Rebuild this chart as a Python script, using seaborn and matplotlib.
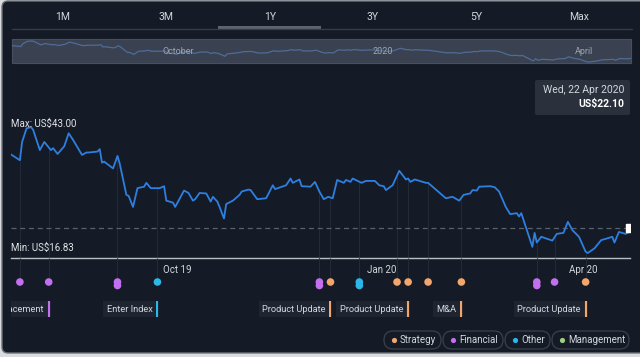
import numpy as np
import pandas as pd
import seaborn as sns
import matplotlib.pyplot as plt
import matplotlib.dates as mdates
from matplotlib.patches import FancyBboxPatch, Rectangle
from matplotlib.transforms import offset_copy, blended_transform_factory

# DATA

price_dates = ['2019-07-18', '2019-07-22', '2019-07-23', '2019-07-25', '2019-07-27', '2019-07-28',
               '2019-07-31', '2019-08-02', '2019-08-05', '2019-08-06', '2019-08-08', '2019-08-11',
               '2019-08-13', '2019-08-15', '2019-08-19', '2019-08-21', '2019-08-22', '2019-08-26',
               '2019-08-27', '2019-08-28', '2019-08-29', '2019-09-02', '2019-09-04', '2019-09-05',
               '2019-09-08', '2019-09-09', '2019-09-11', '2019-09-13', '2019-09-16', '2019-09-17',
               '2019-09-19', '2019-09-23', '2019-09-25', '2019-09-26', '2019-09-29', '2019-09-30',
               '2019-10-04', '2019-10-06', '2019-10-08', '2019-10-09', '2019-10-11', '2019-10-14',
               '2019-10-16', '2019-10-17', '2019-10-19', '2019-10-20', '2019-10-22', '2019-10-23',
               '2019-10-26', '2019-10-29', '2019-10-30', '2019-11-02', '2019-11-03', '2019-11-06',
               '2019-11-10', '2019-11-13', '2019-11-14', '2019-11-19', '2019-11-21', '2019-11-22',
               '2019-11-25', '2019-11-26', '2019-11-30', '2019-12-02', '2019-12-04', '2019-12-06',
               '2019-12-08', '2019-12-10', '2019-12-12', '2019-12-15', '2019-12-16', '2019-12-18',
               '2019-12-19', '2019-12-23', '2019-12-25', '2019-12-29', '2019-12-31', '2020-01-02',
               '2020-01-03', '2020-01-06', '2020-01-09', '2020-01-12', '2020-01-13', '2020-01-14',
               '2020-01-16', '2020-01-21', '2020-01-22', '2020-01-24', '2020-01-30', '2020-02-02',
               '2020-02-05', '2020-02-07', '2020-02-10', '2020-02-11', '2020-02-13', '2020-02-14',
               '2020-02-19', '2020-02-21', '2020-02-23', '2020-02-26', '2020-02-28', '2020-03-02',
               '2020-03-03', '2020-03-04', '2020-03-09', '2020-03-10', '2020-03-11', '2020-03-13',
               '2020-03-18', '2020-03-20', '2020-03-23', '2020-03-25', '2020-03-27', '2020-03-30',
               '2020-04-02', '2020-04-03', '2020-04-06', '2020-04-09', '2020-04-12', '2020-04-14',
               '2020-04-15', '2020-04-17', '2020-04-20', '2020-04-21', '2020-04-22']
prices = [37.3, 36.1, 39.9, 42.7, 43.0, 42.4,
          38.2, 39.9, 38.2, 38.6, 37.4, 39.0,
          41.7, 40.3, 37.2, 37.7, 37.7, 37.9,
          38.4, 35.6, 35.8, 34.4, 37.0, 35.4,
          28.9, 28.7, 26.4, 30.3, 30.6, 31.4,
          30.3, 30.3, 30.7, 27.7, 27.3, 26.4,
          29.8, 29.3, 27.7, 28.0, 29.3, 29.2,
          27.5, 28.5, 27.5, 26.4, 24.0, 27.0,
          27.7, 28.9, 29.6, 30.0, 29.9, 28.0,
          28.2, 30.9, 30.1, 30.9, 32.3, 31.4,
          32.1, 30.7, 30.6, 31.6, 29.6, 28.0,
          28.5, 28.2, 32.0, 31.4, 32.0, 31.6,
          32.3, 31.4, 31.8, 31.8, 30.9, 30.7,
          29.9, 30.9, 33.9, 32.1, 32.3, 31.6,
          32.1, 31.4, 31.4, 30.6, 28.2, 28.5,
          27.7, 28.9, 29.2, 29.9, 29.8, 30.6,
          30.7, 30.5, 29.6, 26.4, 24.9, 25.1,
          24.4, 25.1, 18.1, 21.0, 19.0, 20.2,
          19.4, 20.8, 21.0, 23.3, 21.6, 20.2,
          17.1, 16.83, 17.8, 19.5, 19.9, 20.2,
          19.0, 21.2, 20.8, 21.0, 21.4]

max_price = 43.00
min_price = 16.83
last_price = 22.10

event_dates = ['2019-07-22', '2019-08-04', '2019-09-04', '2019-09-04', '2019-09-22',
               '2019-12-04', '2019-12-04', '2019-12-09', '2019-12-22', '2019-12-22',
               '2020-01-08', '2020-01-13', '2020-01-22', '2020-02-06', '2020-03-11',
               '2020-03-11', '2020-03-19', '2020-04-02']
event_types = ['Financial', 'Financial', 'Financial', 'Financial', 'Other',
               'Financial', 'Financial', 'Strategy', 'Other', 'Other',
               'Strategy', 'Strategy', 'Strategy', 'Strategy', 'Financial',
               'Financial', 'Financial', 'Strategy']

label_dates = ['2019-08-04', '2019-09-22', '2019-12-09', '2020-01-13', '2020-02-06', '2020-04-02']
label_texts = ['Private Placement', 'Enter Index', 'Product Update', 'Product Update', 'M&A', 'Product Update']
label_types = ['Financial', 'Other', 'Strategy', 'Strategy', 'Strategy', 'Strategy']

tick_dates = ['2019-10-01', '2020-01-01', '2020-04-01']
tab_labels = ['1M', '3M', '1Y', '3Y', '5Y', 'Max']
legend_labels = ['Strategy', 'Financial', 'Other', 'Management']
mini_labels = ['October', '2020', 'April']

palette = {'Strategy': '#f3a66c', 'Financial': '#c26ff0', 'Other': '#2bb7e8', 'Management': '#9fcf7e'}

df = pd.DataFrame({'date': pd.to_datetime(price_dates), 'price': prices})
ev = pd.DataFrame({'date': pd.to_datetime(event_dates), 'type': event_types})
ev['row'] = 24 + 3.5 * ev.groupby('date').cumcount()
ev['price'] = np.interp(mdates.date2num(ev['date']), mdates.date2num(df['date']), df['price'])

# STYLE

sns.set_style('dark')
plt.rcParams['font.family'] = ['Roboto', 'DejaVu Sans']

W, H = 640, 357
BG = '#151b26'
TXT = '#d3d7dd'
FAINT = '#232a35'

fig = plt.figure(figsize=(6.4, 3.57), dpi=100, facecolor='#d9dbde')


def box(x0, y0, x1, y1, **kw):
    a = fig.add_axes([x0 / W, 1 - y1 / H, (x1 - x0) / W, (y1 - y0) / H], **kw)
    a.set_facecolor('none')
    return a


# overlay in pixel coords for the card, tabs, hover box and legend
ov = fig.add_axes([0, 0, 1, 1])
ov.set_xlim(0, W)
ov.set_ylim(H, 0)
ov.axis('off')
ov.add_patch(FancyBboxPatch((2, 1), 660, 352, boxstyle='round,pad=0,rounding_size=6',
                            fc=BG, ec='#6c727b', lw=1))

for x, t in zip([63, 166, 270, 373, 476, 579], tab_labels):
    ov.text(x, 17, t, color=TXT, fontsize=7.5, ha='center', va='center')
ov.plot([12, 632], [29, 29], color='#363d49', lw=1)
ov.add_patch(Rectangle((218, 25.5), 103, 3.5, fc='#5d6470', ec='none'))

# mini navigator
ov.add_patch(Rectangle((12, 39), 619, 24, fc='#3a4150', ec='#485060', lw=0.8))
mini = box(12, 39, 631, 63)
sns.lineplot(data=df, x='date', y='price', ax=mini, color='#4f6c98', lw=0.9)
mini.set_xlim(df['date'].iloc[0], df['date'].iloc[-1])
mini.set_ylim(15.6, 45.5)
mini.axis('off')
for d, t in zip(tick_dates, mini_labels):
    mini.text(pd.Timestamp(d), 0.5, t, transform=blended_transform_factory(mini.transData, mini.transAxes),
              color='#9ea6b2', fontsize=6.5, ha='center', va='center')

# hover box
ov.add_patch(FancyBboxPatch((535, 80), 95, 35, boxstyle='round,pad=0,rounding_size=2', fc='#2a313d', ec='none'))
ov.text(624, 90, 'Wed, 22 Apr 2020', color=TXT, fontsize=7.5, ha='right', va='center')
ov.text(624, 104, 'US$%.2f' % last_price, color='white', fontsize=7.5, ha='right', va='center', fontweight='bold')

# legend pills
for (x0, x1), lab in zip([(384, 441), (443, 503), (505, 550), (552, 629)], legend_labels):
    ov.add_patch(FancyBboxPatch((x0, 331), x1 - x0, 18, boxstyle='round,pad=0,rounding_size=9',
                                fc=BG, ec='#3a414d', lw=0.9))
    ov.scatter(x0 + 10, 340, s=14, color=palette[lab], linewidths=0)
    ov.text(x0 + 16, 340, lab, color=TXT, fontsize=7, va='center')

# MAIN PRICE CHART

ax = box(11, 70, 630, 258)
ax.vlines(ev['date'], 15.79, ev['price'], color=FAINT, lw=0.8, zorder=0)
ax.axvline(df['date'].iloc[-1], ymax=0.76, color='#39404b', lw=0.8, ls=(0, (3, 2)))
ax.axhline(last_price, color='#5b616b', lw=0.9, ls=(0, (4, 3)))
sns.lineplot(data=df, x='date', y='price', ax=ax, color='#2d7fe0', lw=1.3)
ax.scatter([df['date'].iloc[-1]], [last_price], s=30, marker='s', color='white', zorder=5, clip_on=True)
ax.set_xlim(df['date'].iloc[0], df['date'].iloc[-1])
ax.set_ylim(15.79, 54.84)
ax.grid(False)
for s in ['top', 'left', 'right']:
    ax.spines[s].set_visible(False)
ax.spines['bottom'].set_color('#b9bdc4')
ax.spines['bottom'].set_linewidth(1)
ax.set_xticks(pd.to_datetime(tick_dates))
ax.xaxis.set_major_formatter(mdates.DateFormatter('%b %y'))
ax.tick_params(axis='x', colors='#b9bdc4', labelcolor=TXT, labelsize=7, length=4,
               direction='inout', pad=3)
ax.set_yticks([])
ax.set_xlabel('')
ax.set_ylabel('')

bl = blended_transform_factory(ax.transAxes, ax.transData)
ax.text(0, max_price, 'Max: US$%.2f' % max_price, color='#e2e4e8', fontsize=7, va='center',
        transform=offset_copy(bl, fig=fig, y=3, units='dots'))
ax.text(0, min_price, 'Min: US$%.2f' % min_price, color='#e2e4e8', fontsize=7, va='center',
        transform=offset_copy(bl, fig=fig, y=5, units='dots'))

# EVENT DOTS

eax = box(11, 258, 630, 298, sharex=ax)
eax.vlines(ev['date'], 0, ev['row'], color=FAINT, lw=0.8, zorder=0)
sns.scatterplot(data=ev, x='date', y='row', hue='type', palette=palette, s=30,
                linewidth=0, legend=False, ax=eax, zorder=3)
eax.set_ylim(40, 0)
eax.axis('off')

# EVENT LABELS

lax = box(11, 298, 630, 320, sharex=ax)
lax.set_ylim(0, 1)
lax.axis('off')
lt = offset_copy(blended_transform_factory(lax.transData, lax.transAxes), fig=fig, x=-5, y=0, units='dots')
for d, t, k in zip(label_dates, label_texts, label_types):
    d = pd.Timestamp(d)
    lax.text(d, 0.5, t, transform=lt, color=TXT, fontsize=6.7, ha='right', va='center', clip_on=True,
             bbox=dict(boxstyle='square,pad=0.35', fc='#1e2531', ec='none'))
    lax.vlines(d, 0.14, 0.86, color=palette[k], lw=1.6)
lax.set_xlim(df['date'].iloc[0], df['date'].iloc[-1])

fig.savefig('out.png', dpi=100, facecolor=fig.get_facecolor())
